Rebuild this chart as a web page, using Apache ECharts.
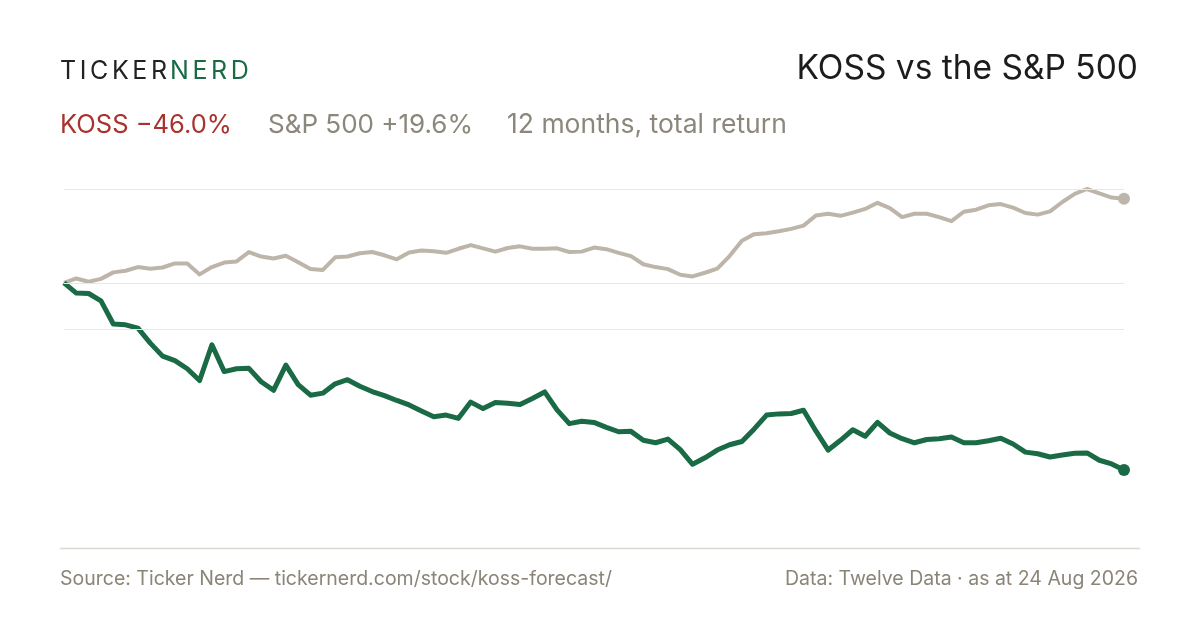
<!DOCTYPE html>
<html>
<head>
<meta charset="utf-8">
<script src="https://cdn.jsdelivr.net/npm/echarts@6/dist/echarts.min.js"></script>
<style>
  html, body { margin: 0; background: #fff; }
  #chart { width: 1200px; height: 630px; }
</style>
</head>
<body>
<div id="chart"></div>
<script>
// 12 months of total return, % from the start, sampled every few sessions
var koss = [0, -2.5, -2.6, -4.4, -10.1, -10.3, -11.1, -14.8, -18.0, -19.1,
  -21.1, -24.0, -15.2, -21.8, -21.1, -21.0, -24.3, -26.4, -20.2, -25.0,
  -27.6, -27.1, -24.8, -23.8, -25.4, -26.7, -27.7, -28.9, -30.0, -31.5,
  -32.9, -32.5, -33.3, -29.3, -30.9, -29.4, -29.6, -29.9, -28.4, -26.8,
  -31.2, -34.6, -34.0, -34.3, -35.5, -36.6, -36.5, -38.7, -39.3, -38.4,
  -41.0, -44.6, -43.0, -41.1, -39.8, -39.0, -35.9, -32.5, -32.2, -32.1,
  -31.3, -36.4, -41.1, -38.7, -36.1, -37.7, -34.3, -36.9, -38.3, -39.3,
  -38.5, -38.3, -37.9, -39.3, -39.3, -38.8, -38.2, -39.6, -41.6, -42.0,
  -42.8, -42.3, -41.9, -41.8, -43.6, -44.5, -46.0];
var spx = [0, 1.1, 0.3, 1.0, 2.6, 3.0, 3.9, 3.5, 3.8, 4.8,
  4.8, 2.1, 3.9, 5.0, 5.3, 7.6, 6.5, 6.0, 6.7, 5.1,
  3.4, 3.2, 6.3, 6.5, 7.3, 7.6, 6.8, 5.8, 7.5, 8.0,
  7.8, 7.4, 8.4, 9.3, 8.5, 7.7, 8.6, 9.0, 8.4, 8.4,
  8.5, 7.6, 7.7, 8.7, 8.3, 7.4, 6.6, 4.6, 3.9, 3.4,
  2.0, 1.6, 2.5, 3.5, 6.6, 10.4, 12.0, 12.2, 12.7, 13.3,
  14.1, 16.6, 17.0, 16.5, 17.3, 18.2, 19.7, 18.4, 16.2, 17.0,
  17.0, 16.2, 15.2, 17.5, 18.0, 19.1, 19.4, 18.5, 17.2, 16.8,
  17.6, 19.9, 21.9, 23.1, 22.0, 21.0, 20.7];
var steps = koss.map(function (v, i) { return i; });

var kossText = 'KOSS \u221246.0%';
var spxText = 'S&P 500 +19.6%';
var periodText = '12 months, total return';

var green = '#1a6b45';
var sand = '#bdb5aa';
var font = 'Inter, "Noto Sans", sans-serif';

var lo = Math.min.apply(null, koss.concat(spx));
var hi = Math.max.apply(null, koss.concat(spx));
// guide lines: top of range, middle of range, zero
var guides = [hi, (hi + lo) / 2, 0];
var last = koss.length - 1;

function endDot(v, p) {
    return p.dataIndex === last ? 12 : 0;
}

// logo letters, spaced out by hand
var ctx = document.createElement('canvas').getContext('2d');
ctx.font = '400 25px ' + font;
function spaced(word, x0, color) {
    var out = [];
    var x = x0;
    for (var i = 0; i < word.length; i++) {
        out.push({
            type: 'text', left: x, top: 59,
            style: { text: word[i], fill: color, font: '400 25px ' + font }
        });
        x += ctx.measureText(word[i]).width + 3.6;
    }
    return out;
}

var myChart = echarts.init(document.getElementById('chart'));
var option = {
    animation: false,
    backgroundColor: '#fff',
    grid: { left: 64, right: 76, top: 189, bottom: 160 },
    xAxis: {
        type: 'category',
        boundaryGap: false,
        data: steps,
        show: false
    },
    yAxis: {
        type: 'value',
        min: lo,
        max: hi,
        show: false,
        splitLine: { show: false }
    },
    series: [{
        name: 'guides',
        type: 'line',
        data: [],
        z: 1,
        markLine: {
            silent: true,
            symbol: 'none',
            label: { show: false },
            lineStyle: { color: '#ebe8e2', width: 1.2, type: 'solid' },
            data: guides.map(function (g) { return { yAxis: g }; })
        }
    }, {
        name: 'S&P 500',
        type: 'line',
        data: spx,
        z: 3,
        symbol: 'circle',
        symbolSize: endDot,
        showAllSymbol: true,
        itemStyle: { color: sand },
        lineStyle: { color: sand, width: 4, join: 'round' }
    }, {
        name: 'KOSS',
        type: 'line',
        data: koss,
        z: 4,
        symbol: 'circle',
        symbolSize: endDot,
        showAllSymbol: true,
        itemStyle: { color: green },
        lineStyle: { color: green, width: 5, join: 'round' }
    }],
    graphic: spaced('TICKER', 60, '#222222').concat(spaced('NERD', 170, green)).concat([
        {
            type: 'text', right: 62, top: 52,
            style: { text: 'KOSS vs the S&P 500', fill: '#1c1c1c', font: '400 33.5px ' + font }
        },
        {
            type: 'text', left: 60, top: 112,
            style: { text: kossText, fill: '#a8322d', font: '400 25.5px ' + font }
        },
        {
            type: 'text', left: 268, top: 112,
            style: { text: spxText, fill: '#8c877b', font: '400 26px ' + font }
        },
        {
            type: 'text', left: 507, top: 112,
            style: { text: periodText, fill: '#8c877b', font: '400 26.5px ' + font }
        },
        {
            type: 'line',
            shape: { x1: 60, y1: 548.5, x2: 1140, y2: 548.5 },
            style: { stroke: '#dcd8cf', lineWidth: 1.5 }
        },
        {
            type: 'text', left: 60, top: 569,
            style: { text: 'Source: Ticker Nerd \u2014 tickernerd.com/stock/koss-forecast/', fill: '#8a8577', font: '400 19.5px ' + font }
        },
        {
            type: 'text', right: 62, top: 569,
            style: { text: 'Data: Twelve Data \u00b7 as at 24 Aug 2026', fill: '#8a8577', font: '400 19.5px ' + font }
        }
    ])
};
myChart.setOption(option);
</script>
</body>
</html>
